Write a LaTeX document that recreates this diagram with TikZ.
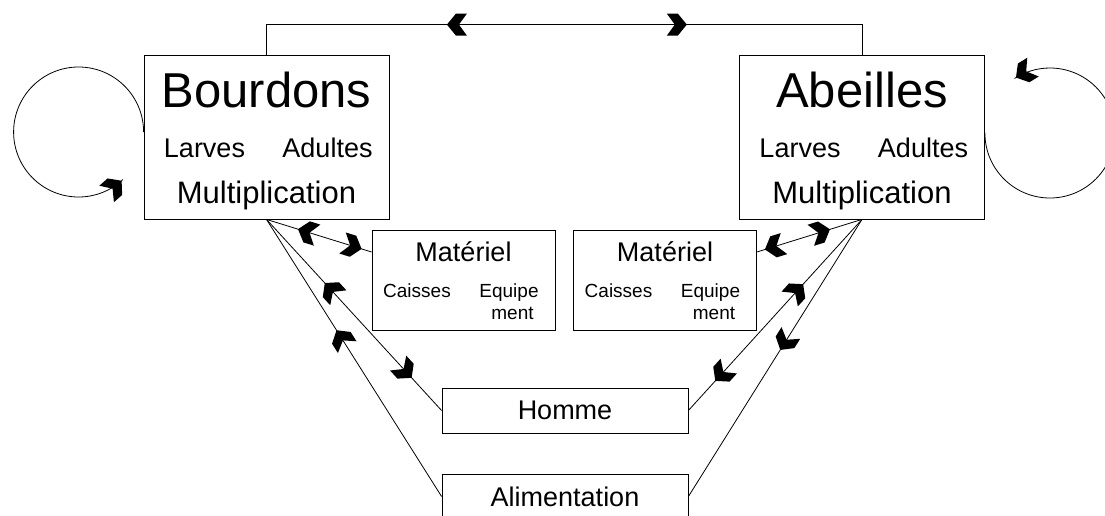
\documentclass[tikz,border=0pt]{standalone}
\usepackage{fontspec}
\setmainfont{Liberation Sans}
\usetikzlibrary{decorations.markings}

\newcommand\fsz[1]{\fontsize{#1}{#1}\selectfont}
\newcommand\chev[1]{\fill[xscale=#1] (0,0) -- (-9,-11) -- (-20,-11) -- (-12,0) -- (-20,11) -- (-9,11) -- cycle;}

\tikzset{
  box/.style={draw,inner sep=0pt},
  fwd/.style={postaction={decorate,decoration={markings,mark=at position #1 with {\chev{1}}}}},
  bwd/.style={postaction={decorate,decoration={markings,mark=at position #1 with {\chev{-1}}}}},
}

\begin{document}
\begin{tikzpicture}[x=1pt,y=-1pt,line width=0.8pt]
\useasboundingbox (0,0) rectangle (1105,515);

\foreach \nm/\xc/\ttl in {bou/266.5/Bourdons,abe/862/Abeilles} {
  \node[box,minimum width=245pt,minimum height=164pt] (\nm) at (\xc,137) {};
  \node[anchor=base,font=\fsz{49}] (\nm-t) at ([yshift=-53pt]\nm.north) {\ttl};
  \node[anchor=base,font=\fsz{27}] (\nm-l) at ([xshift=-62pt,yshift=-103pt]\nm.north) {Larves};
  \node[anchor=base,font=\fsz{27}] (\nm-a) at ([xshift=61pt,yshift=-103pt]\nm.north) {Adultes};
  \node[anchor=base,font=\fsz{31}] (\nm-m) at ([yshift=-149pt]\nm.north) {Multiplication};
}

\foreach \nm/\xc in {matl/463.5,matr/665} {
  \node[box,minimum width=183pt,minimum height=100pt] (\nm) at (\xc,280) {};
  \node[anchor=base,font=\fsz{27}] (\nm-t) at ([yshift=-32pt]\nm.north) {Matériel};
  \node[anchor=base,font=\fsz{19}] (\nm-c) at ([xshift=-46.5pt,yshift=-68pt]\nm.north) {Caisses};
  \node[anchor=base,font=\fsz{19}] (\nm-e) at ([xshift=45.5pt,yshift=-68pt]\nm.north) {Equipe};
  \node[anchor=base,font=\fsz{19}] (\nm-n) at ([xshift=49pt,yshift=-90pt]\nm.north) {ment};
}

\node[box,minimum width=246pt,minimum height=45pt,font=\fsz{27}] (hom) at (565,410.5) {Homme};
\node[box,minimum width=246pt,minimum height=45pt,font=\fsz{27}] (ali) at (565,496.5) {Alimentation};

% liens
\draw[bwd=0.321,fwd=0.687] (bou.north) -- ++(0,-30) -| (abe.north);
\draw[bwd=0.30,fwd=0.905] (bou.south) -- ([yshift=28pt]matl.west);
\draw[bwd=0.333,fwd=0.829] (bou.south) -- (hom.west);
\draw[bwd=0.40] (bou.south) -- (ali.west);
\draw[bwd=0.305,fwd=0.924] (abe.south) -- ([yshift=28pt]matr.east);
\draw[bwd=0.339,fwd=0.845] (abe.south) -- (hom.east);
\draw[fwd=0.471] (abe.south) -- (ali.east);

% boucles
\draw[fwd=0.995] ([yshift=5pt]bou.west) arc[start angle=0,end angle=-313,radius=65];
\draw[fwd=0.995] ([yshift=4pt]abe.east) arc[start angle=180,end angle=-123,radius=65];

\end{tikzpicture}
\end{document}
